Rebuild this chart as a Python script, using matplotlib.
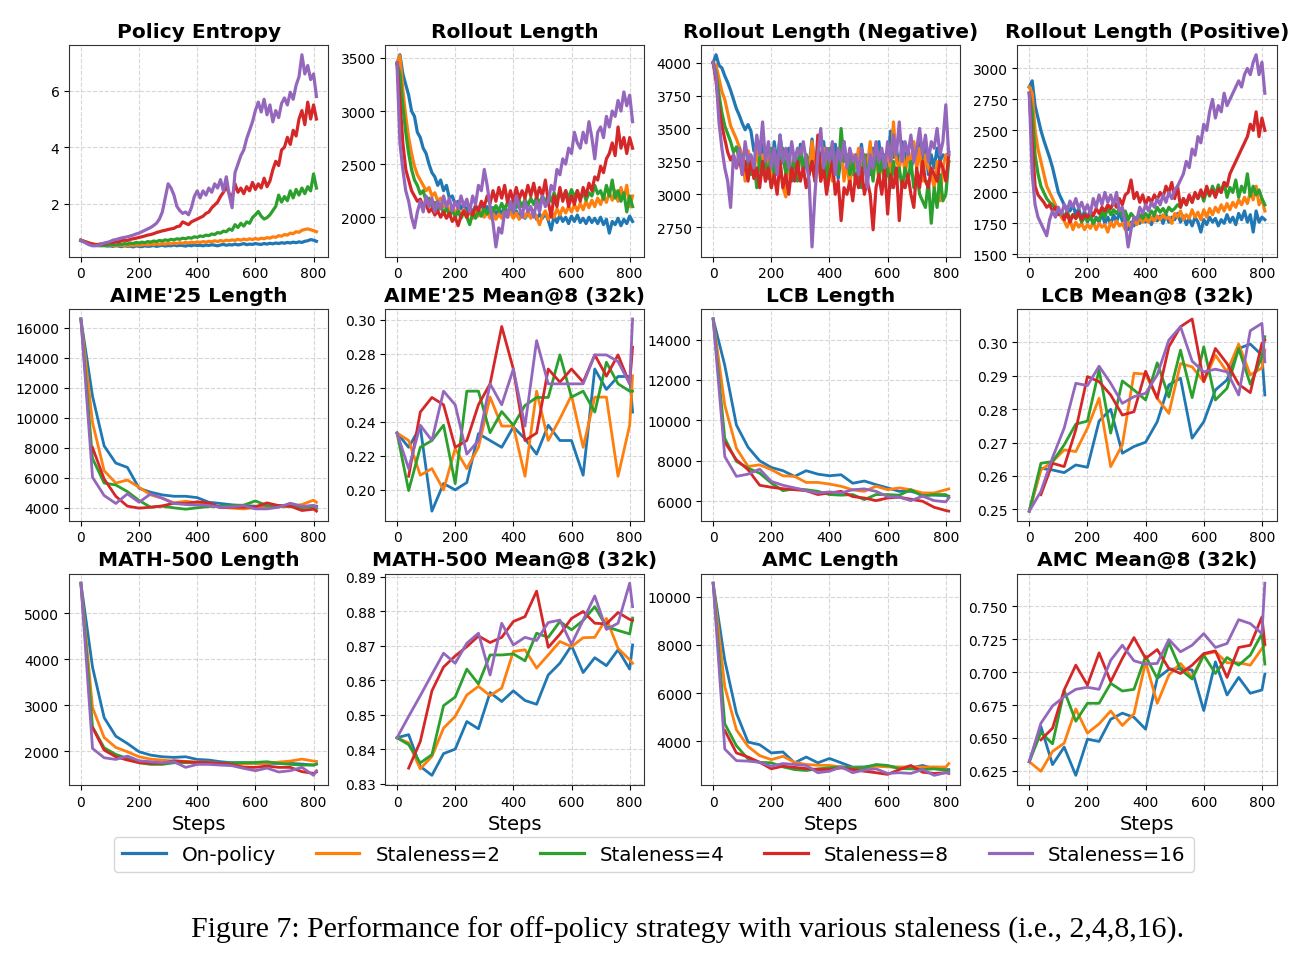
import numpy as np
import matplotlib
matplotlib.use("Agg")
import matplotlib.pyplot as plt
from matplotlib.ticker import MultipleLocator

nan = np.nan
series_names = ["On-policy", "Staleness=2", "Staleness=4", "Staleness=8", "Staleness=16"]
colors = ["#1f77b4", "#ff7f0e", "#2ca02c", "#d62728", "#9467bd"]

train_steps = list(range(0, 811, 10))
eval_steps = list(range(0, 801, 40)) + [810]

# ---------------- training curves (sampled every 10 steps) ----------------
entropy_on = [0.68,0.64,0.62,0.58,0.55,0.53,0.52,0.50,0.52,0.49,0.50,0.48,0.51,0.49,0.47,0.50,0.48,0.49,0.46,0.50,0.48,0.47,0.50,0.48,0.49,0.51,0.48,0.50,0.52,0.49,0.51,0.50,0.53,0.50,0.52,0.51,0.49,0.52,0.50,0.53,0.51,0.52,0.50,0.53,0.51,0.54,0.52,0.50,0.53,0.55,0.52,0.54,0.53,0.56,0.53,0.55,0.58,0.54,0.56,0.55,0.58,0.56,0.55,0.58,0.56,0.59,0.57,0.60,0.58,0.61,0.59,0.62,0.60,0.63,0.61,0.64,0.62,0.66,0.68,0.72,0.70,0.66]
entropy_s2 = [0.70,0.66,0.63,0.60,0.57,0.55,0.53,0.54,0.52,0.53,0.51,0.52,0.50,0.53,0.51,0.52,0.50,0.53,0.51,0.54,0.52,0.53,0.55,0.53,0.56,0.54,0.57,0.55,0.58,0.56,0.59,0.57,0.60,0.58,0.61,0.59,0.62,0.60,0.63,0.61,0.64,0.62,0.65,0.63,0.66,0.64,0.68,0.65,0.69,0.66,0.70,0.68,0.71,0.69,0.73,0.70,0.74,0.71,0.75,0.72,0.76,0.73,0.77,0.75,0.79,0.77,0.82,0.80,0.86,0.84,0.90,0.88,0.95,0.93,1.00,0.98,1.05,1.08,1.10,1.07,1.04,1.00]
entropy_s4 = [0.70,0.66,0.62,0.58,0.55,0.52,0.50,0.52,0.50,0.53,0.52,0.55,0.53,0.56,0.55,0.58,0.56,0.60,0.58,0.62,0.60,0.63,0.61,0.65,0.63,0.67,0.65,0.69,0.67,0.71,0.69,0.73,0.71,0.75,0.73,0.77,0.75,0.79,0.77,0.82,0.80,0.85,0.83,0.88,0.86,0.92,0.90,0.97,0.95,1.02,1.00,1.10,1.05,1.25,1.15,1.30,1.20,1.35,1.30,1.50,1.60,1.72,1.55,1.45,1.50,1.60,1.75,1.90,2.30,2.05,2.25,2.10,2.45,2.20,2.50,2.30,2.55,2.35,2.60,2.45,3.05,2.55]
entropy_s8 = [0.70,0.66,0.62,0.58,0.56,0.54,0.55,0.57,0.56,0.60,0.62,0.61,0.65,0.64,0.68,0.70,0.69,0.73,0.75,0.77,0.80,0.82,0.85,0.88,0.90,0.93,0.97,1.00,1.03,1.05,1.08,1.10,1.12,1.18,1.20,1.35,1.30,1.25,1.35,1.40,1.45,1.50,1.55,1.65,1.70,1.85,1.95,2.05,2.25,2.40,2.60,2.35,2.20,2.70,2.40,2.55,2.35,2.60,2.45,2.75,2.50,2.70,2.55,2.90,2.60,2.80,3.20,3.50,3.35,3.90,4.00,4.35,4.10,4.60,4.40,5.00,5.30,4.80,5.60,5.00,5.50,5.00]
entropy_s16 = [0.70,0.64,0.58,0.53,0.50,0.50,0.52,0.55,0.60,0.62,0.65,0.70,0.72,0.75,0.78,0.80,0.82,0.85,0.88,0.92,0.95,1.00,1.05,1.10,1.15,1.22,1.30,1.45,1.70,2.20,2.70,2.55,2.30,1.90,1.75,1.65,1.70,1.60,1.85,2.25,2.45,2.20,2.45,2.30,2.55,2.40,2.70,2.55,2.85,2.45,2.95,2.30,1.85,3.10,3.40,3.70,3.90,4.30,4.60,4.90,5.30,5.60,5.25,5.70,5.15,5.50,4.90,5.30,5.05,5.55,5.75,5.50,5.95,5.70,6.20,6.50,7.28,6.60,6.90,6.40,6.60,5.80]

rollout_on = [3450,3530,3350,3250,3150,3000,2950,2800,2750,2650,2600,2500,2420,2380,2300,2350,2250,2300,2180,2200,2120,2150,2080,2130,2060,2100,2040,2110,2070,2130,2050,2100,2040,2090,2020,2080,2030,2100,2040,2080,2020,2060,2000,2050,1990,2040,2000,2060,1980,2030,1990,2040,1970,1880,2010,1950,2020,1960,2000,1940,2010,1960,2020,1950,1990,1940,2000,1950,1990,1940,2000,1930,1980,1850,1960,1930,1990,1920,1980,1940,2010,1960]
rollout_s2 = [3450,3520,3200,2950,2750,2600,2480,2400,2350,2300,2250,2280,2200,2230,2150,2180,2100,2130,2060,2100,2040,2080,2020,2070,2000,2060,1990,2050,2010,2060,2000,2050,1990,2040,1980,2030,1990,2060,2000,2050,1990,2040,1980,2030,2000,2060,1990,2050,2000,1930,2010,2060,1980,2050,2000,2080,2020,2090,2040,2100,2050,2120,2060,2130,2070,2150,2090,2160,2100,2180,2120,2200,2140,2230,2160,2250,2150,2280,2180,2300,2100,2200]
rollout_s4 = [3450,3350,3050,2800,2600,2450,2350,2300,2220,2250,2150,2180,2100,2140,2060,2120,2030,2090,2010,2070,2000,2060,1990,2050,2000,1930,2040,1990,2060,2010,2080,2030,2100,2050,2110,2060,2130,2070,2140,2080,2150,2090,2160,2100,2170,2110,2180,2120,2190,2130,2200,2140,2210,2150,2230,2160,2240,2170,2250,2180,2260,2190,2250,2170,2240,2160,2230,2200,2300,2220,2250,2170,2300,2200,2350,2180,2250,2150,2230,2050,2200,2100]
rollout_s8 = [3450,3100,2700,2450,2350,2250,2200,2150,2170,2100,2120,2050,2080,2020,2060,2000,2050,1990,2040,1960,2000,1920,2010,2060,2000,2080,2020,2100,2060,2150,2100,2200,2130,2250,2150,2280,2180,2300,2140,2250,2150,2280,2170,2250,2180,2300,2200,2320,2180,2280,2200,2350,2150,2000,2200,2100,2280,2150,2250,2100,2200,2120,2250,2150,2280,2200,2320,2250,2380,2350,2480,2420,2550,2600,2700,2580,2850,2650,2750,2600,2750,2650]
rollout_s16 = [3450,2700,2450,2250,2150,2000,1900,2050,2150,2050,2200,2100,2180,2050,2150,2080,2200,2100,2180,2060,2150,2080,2200,2100,2170,2050,2200,2120,2300,2250,2450,2300,2100,1950,1720,1900,1850,2050,2000,2150,2050,2200,2100,2000,2150,2050,2100,2000,2150,2050,2200,2100,2150,2300,2250,2450,2400,2550,2500,2650,2600,2800,2700,2650,2800,2700,2900,2750,2550,2800,2850,2750,2950,2850,3000,2950,3100,3000,3180,3050,3150,2900]

neg_on = [4000,4060,3980,3960,3900,3850,3790,3720,3650,3600,3540,3490,3530,3480,3330,3400,3250,3380,3170,3320,3120,3400,3220,3450,3260,3180,3350,3100,3300,3200,3380,3150,3300,3220,3420,3180,3350,3250,3400,3150,3300,3200,3380,3120,3280,3400,3200,3330,3150,3300,3250,3380,3200,3300,3150,3350,3250,3400,3180,3300,3220,3480,3280,3350,3200,3400,3250,3350,3180,3300,3220,3400,3250,3380,3150,3300,3200,3350,3250,3300,3280,3320]
neg_s2 = [4000,3980,3880,3780,3720,3620,3520,3470,3420,3360,3300,3100,3330,3260,3150,3350,3200,3300,3100,3350,3050,3300,3150,3250,3050,2980,3300,3150,3280,3120,3350,3200,3300,3150,3400,3200,3300,3100,3350,3150,3250,3100,3300,3200,3350,3100,3250,3050,3300,3200,3350,3150,3300,3200,3400,3150,3300,3100,3250,3200,3350,3150,3550,3250,3200,3350,3150,3300,3250,3400,3200,3350,3100,3300,3200,3150,3050,3250,2950,3200,3300,3250]
neg_s4 = [4000,3920,3760,3620,3520,3460,3400,3320,3360,3260,3300,3200,3280,3150,3250,3050,3280,3150,3250,3120,3350,3150,3300,3200,3350,3150,3280,3120,3300,3100,3350,3200,3300,3150,3250,3100,3300,3150,3250,3100,3350,3200,3300,3150,3500,3250,3300,3150,3250,3100,3200,3050,3300,3150,3250,3100,3350,3150,3250,3100,3200,3050,3250,3100,3200,3050,3200,3100,3250,3050,3150,3000,2950,2900,3100,2780,3050,2900,3150,2950,3000,3250]
neg_s8 = [4000,3860,3660,3520,3420,3320,3260,3300,3200,3280,3150,3250,3100,3280,3120,3200,3050,3250,3100,3200,3050,3150,3000,3250,3050,3150,3000,3200,3100,3250,3100,3200,3050,3150,3250,3100,3450,3100,3200,3000,3150,3250,3000,3100,2800,3050,3000,3100,2950,3150,3050,3200,3000,3100,3000,2730,3050,3150,3000,3200,2850,3150,3050,3200,2800,3100,3050,3150,3000,2900,3200,3050,3250,3100,3050,3200,3150,3100,3250,3200,3100,3300]
neg_s16 = [4000,3900,3550,3350,3200,3100,2900,3300,3200,3350,3150,3400,3250,3300,3200,3450,3300,3550,3250,3400,3200,3350,3150,3450,3250,3350,3200,3400,3250,3350,3300,3400,3250,3100,2600,3000,3300,3500,3200,3350,3250,3400,3150,3350,3250,3400,3200,3350,3250,3300,3150,3350,3250,3050,3300,3200,3400,3250,3350,3200,3400,3250,3450,3300,3550,3250,3400,3300,3450,3250,3350,3500,3300,3450,3250,3400,3350,3500,3300,3400,3680,3300]

pos_on = [2850,2900,2700,2600,2500,2420,2350,2280,2200,2100,2000,1950,1900,1870,1850,1900,1820,1870,1780,1850,1760,1820,1740,1800,1760,1830,1750,1800,1740,1820,1760,1840,1770,1810,1700,1760,1730,1800,1750,1820,1760,1800,1740,1830,1770,1810,1750,1820,1760,1800,1780,1830,1760,1810,1740,1790,1730,1800,1760,1680,1780,1740,1800,1760,1790,1730,1780,1750,1820,1760,1800,1740,1830,1780,1850,1760,1820,1680,1850,1760,1800,1780]
pos_s2 = [2850,2800,2500,2350,2250,2150,2050,2000,1950,1900,1850,1800,1770,1720,1780,1700,1760,1720,1750,1700,1740,1710,1760,1700,1750,1720,1740,1680,1760,1720,1770,1730,1750,1700,1760,1720,1780,1740,1800,1760,1790,1760,1800,1770,1810,1780,1820,1790,1800,1750,1830,1800,1850,1780,1820,1790,1860,1800,1840,1780,1860,1800,1870,1820,1880,1840,1900,1850,1910,1860,1920,1880,1940,1900,1960,1910,2000,1940,2050,1900,1950,1850]
pos_s4 = [2800,2650,2300,2150,2050,2000,1950,1920,1900,1870,1850,1830,1800,1850,1780,1820,1790,1830,1760,1800,1770,1810,1750,1790,1780,1850,1800,1880,1820,1860,1830,1870,1810,1850,1780,1830,1800,1780,1820,1790,1830,1800,1850,1820,1880,1840,1870,1830,1880,1850,1870,1900,1880,1950,1900,1970,1920,1990,1950,2000,1930,2020,1970,2050,1980,2060,2000,2080,1960,2040,2000,2100,1960,2050,2000,2150,1970,2050,1980,2020,1950,1900]
pos_s8 = [2800,2400,2050,1980,1950,1920,1880,1900,1850,1880,1820,1850,1780,1830,1760,1820,1790,1840,1780,1820,1800,1850,1810,1870,1830,1880,1850,1900,1870,1920,1880,1950,1900,1980,2000,2100,1950,2000,1920,1980,1900,1960,1920,1980,1940,2000,1960,2050,2000,2080,1950,2050,1880,1950,1900,1980,1920,2000,1950,2020,1960,2050,1980,2020,1960,2030,2000,2080,2050,2150,2200,2250,2300,2350,2400,2450,2550,2500,2650,2450,2600,2500]
pos_s16 = [2800,2150,1900,1800,1750,1700,1650,1780,1850,1800,1880,1820,1900,1850,1930,1880,1950,1870,1920,1850,1900,1830,1950,1880,1980,1900,2000,1920,1980,1900,2000,1850,1880,1750,1560,1700,1800,1780,1880,1830,1900,1850,1920,1880,1950,1900,1980,1920,2000,1950,2020,2050,2100,2150,2250,2200,2350,2300,2450,2400,2550,2500,2650,2750,2600,2700,2650,2800,2700,2750,2800,2850,2900,2850,2950,3000,2950,3050,3110,2950,3050,2800]

# ---------------- evaluation curves (every 40 steps + final 810) ----------------
aime_len_on = [16570,11430,8120,6980,6690,5300,5040,4860,4770,4770,4680,4370,4290,4200,4150,4110,4070,4110,4110,4040,4150,4110]
aime_len_s2 = [16570,9670,6470,5650,5850,5370,4860,4640,4330,4440,4330,4240,4040,3980,3930,4020,4000,4070,4110,4220,4510,4370]
aime_len_s4 = [16570,7290,5650,5520,5080,4490,4040,4110,4000,3910,4000,4090,4110,4150,4180,4460,4150,4150,4110,4020,4070,3930]
aime_len_s8 = [nan,8010,5920,4770,4110,3980,4040,4130,4310,4290,4400,4330,4020,4040,4040,4070,4330,4150,4110,3820,3910,3780]
aime_len_s16 = [16570,6030,4820,4290,4930,4370,4930,4640,4290,4220,4180,4150,4040,4070,4150,3930,3930,4040,4310,4110,4150,4040]

aime_acc_on = [0.2334,0.225,0.237,0.1875,0.2037,0.200,0.2043,0.233,0.229,0.225,0.237,0.230,0.221,0.238,0.229,0.229,0.2086,0.271,0.259,0.2666,0.2666,0.2457]
aime_acc_s2 = [0.2334,0.229,0.2086,0.2125,0.200,0.2242,0.2125,0.225,0.2545,0.2375,0.2375,0.208,0.258,0.229,0.2418,0.2555,0.225,0.2545,0.2545,0.208,0.238,0.267]
aime_acc_s4 = [0.2334,0.1996,0.225,0.229,0.238,0.2037,0.258,0.258,0.2336,0.246,0.238,0.2496,0.2543,0.2543,0.2793,0.2545,0.258,0.2457,0.275,0.2623,0.258,0.258]
aime_acc_s8 = [nan,0.208,0.2457,0.2543,0.250,0.225,0.229,0.250,0.2623,0.296,0.271,0.229,0.2334,0.271,0.2633,0.271,0.2633,0.2793,0.2668,0.2793,0.2623,0.2838]
aime_acc_s16 = [0.2334,0.2125,0.238,0.229,0.258,0.250,0.221,0.229,0.2623,0.250,0.271,0.2375,0.2877,0.2623,0.2623,0.2623,0.2623,0.2793,0.2793,0.2754,0.2623,0.3004]

lcb_len_on = [15015,12720,9770,8670,8000,7670,7510,7230,7510,7340,7260,7310,6890,7000,6820,6660,6490,6490,6330,6300,6280,6250]
lcb_len_s2 = [15015,10750,8620,7720,7800,7560,7260,7230,6930,6930,6850,6740,6560,6490,6740,6570,6660,6570,6410,6410,6570,6610]
lcb_len_s4 = [15015,9110,7970,7640,7390,6900,6520,6620,6570,6490,6330,6300,6330,6080,6330,6330,6300,6570,6250,6330,6330,6200]
lcb_len_s8 = [nan,8920,8050,7560,6790,6690,6620,6570,6520,6330,6410,6490,6230,6160,6030,6160,6200,6100,6000,5700,5540,5510]
lcb_len_s16 = [15015,8210,7230,7340,7590,6980,6790,6660,6520,6410,6460,6410,6570,6610,6490,6230,6200,6030,6250,6030,5970,6160]

lcb_acc_on = [0.2495,0.2623,0.2618,0.261,0.2633,0.2626,0.2764,0.2799,0.2668,0.2688,0.2701,0.2762,0.2872,0.2892,0.2713,0.2762,0.2857,0.2887,0.2981,0.2994,0.2961,0.2842]
lcb_acc_s2 = [0.2495,0.2618,0.2643,0.2678,0.2673,0.2743,0.2832,0.2628,0.2693,0.2907,0.2904,0.2832,0.2787,0.2936,0.2926,0.2882,0.2961,0.2911,0.2994,0.2902,0.2923,0.2976]
lcb_acc_s4 = [0.2495,0.2638,0.2643,0.2693,0.2755,0.2764,0.2917,0.2728,0.2884,0.2857,0.2827,0.2938,0.2836,0.2976,0.2834,0.2986,0.2827,0.2862,0.2981,0.2874,0.2956,0.3016]
lcb_acc_s8 = [nan,0.2544,0.2638,0.2628,0.2738,0.2897,0.2882,0.2842,0.2782,0.2792,0.2913,0.2832,0.2986,0.3046,0.3069,0.2882,0.2981,0.2936,0.2874,0.2849,0.2996,0.3006]
lcb_acc_s16 = [0.2495,0.2554,0.2655,0.2743,0.2877,0.2870,0.2928,0.2877,0.2817,0.2837,0.2847,0.2902,0.3006,0.3046,0.2943,0.2911,0.2919,0.2911,0.2842,0.3034,0.3056,0.2941]

math_len_on = [5660,3830,2730,2325,2166,1986,1913,1877,1863,1877,1819,1805,1769,1747,1747,1733,1733,1733,1733,1718,1696,1718]
math_len_s2 = [5660,2947,2296,2080,1986,1877,1826,1805,1783,1776,1761,1761,1733,1711,1718,1733,1733,1761,1783,1826,1783,1776]
math_len_s4 = [5660,2528,2072,1928,1841,1747,1711,1711,1747,1747,1754,1747,1733,1747,1747,1754,1769,1733,1711,1696,1696,1718]
math_len_s8 = [nan,2513,2022,1877,1805,1747,1733,1733,1790,1769,1754,1747,1733,1711,1646,1646,1675,1646,1646,1552,1516,1545]
math_len_s16 = [5660,2058,1855,1819,1892,1790,1769,1747,1769,1646,1711,1711,1696,1682,1624,1573,1631,1545,1573,1646,1472,1573]

math_acc_on = [0.8433,0.8442,0.835,0.8324,0.8387,0.840,0.848,0.8459,0.8564,0.8538,0.8569,0.8541,0.853,0.8615,0.8649,0.870,0.8622,0.8665,0.8642,0.8688,0.8632,0.8702]
math_acc_s2 = [0.8433,0.8418,0.8343,0.8379,0.8461,0.8495,0.8557,0.8582,0.8555,0.8577,0.8683,0.8688,0.8635,0.8673,0.8712,0.8697,0.8723,0.8724,0.8779,0.8692,0.8659,0.8649]
math_acc_s4 = [0.8433,0.8413,0.836,0.8384,0.8526,0.8551,0.8632,0.8589,0.8673,0.8673,0.8676,0.8656,0.8736,0.8724,0.877,0.8746,0.8773,0.8813,0.8755,0.8744,0.8734,0.8780]
math_acc_s8 = [nan,0.8345,0.8422,0.8569,0.8638,0.867,0.8697,0.8728,0.8709,0.8724,0.877,0.8784,0.8858,0.8695,0.8733,0.8779,0.8799,0.8765,0.8763,0.8796,0.8776,0.8773]
math_acc_s16 = [0.8433,0.8495,0.8555,0.8617,0.8678,0.8649,0.8707,0.8736,0.8615,0.8765,0.8702,0.8724,0.8715,0.8767,0.8774,0.8704,0.8774,0.8844,0.8747,0.8765,0.8881,0.8813]

amc_len_on = [10560,7360,5170,3970,3860,3520,3560,3110,3350,3110,3290,3110,2930,2940,3010,2970,2900,2900,3000,2870,2830,2830]
amc_len_s2 = [10560,6270,4480,3790,3410,3240,3380,3130,3040,3010,3000,2940,2900,2900,2970,2940,2940,2940,2930,2940,2930,3080]
amc_len_s4 = [10560,4730,3820,3270,3130,3110,2940,2830,2790,2860,2900,2940,2900,2900,3040,3000,2870,2860,2830,2860,2810,2760]
amc_len_s8 = [nan,4450,3520,3350,3130,2860,2970,2920,2870,2830,2830,2900,2830,2760,2700,2630,2830,3000,2720,2670,2700,2670]
amc_len_s16 = [10560,3680,3200,3180,3130,2970,3080,3040,3000,2700,2760,2940,2700,2810,2860,2670,2700,2670,2830,2590,2700,2700]

amc_acc_on = [0.632,0.6587,0.6298,0.6431,0.6217,0.6491,0.6474,0.6642,0.6688,0.6657,0.6567,0.6952,0.702,0.7027,0.7015,0.6708,0.7077,0.6826,0.6959,0.6839,0.6864,0.6984]
amc_acc_s2 = [0.632,0.6248,0.6398,0.6461,0.672,0.6537,0.6607,0.6705,0.6595,0.6683,0.7077,0.6763,0.6977,0.7065,0.6959,0.7133,0.7153,0.707,0.707,0.7052,0.7178,0.7203]
amc_acc_s4 = [0.632,0.6542,0.6456,0.6859,0.6627,0.6763,0.6763,0.6914,0.6856,0.6869,0.712,0.6952,0.7223,0.702,0.6947,0.7128,0.6989,0.711,0.7052,0.7128,0.7291,0.706]
amc_acc_s8 = [nan,0.6486,0.6574,0.6864,0.7052,0.6901,0.7145,0.6927,0.7103,0.7261,0.7103,0.717,0.7027,0.6989,0.7052,0.714,0.716,0.6959,0.7186,0.7203,0.7417,0.7211]
amc_acc_s16 = [0.632,0.6612,0.6743,0.6813,0.6869,0.6884,0.6869,0.7089,0.7203,0.7085,0.706,0.7065,0.7246,0.7153,0.7203,0.7291,0.7186,0.7216,0.7397,0.7367,0.7291,0.7673]

panels = [
    ("Policy Entropy", train_steps, [entropy_on, entropy_s2, entropy_s4, entropy_s8, entropy_s16], None),
    ("Rollout Length", train_steps, [rollout_on, rollout_s2, rollout_s4, rollout_s8, rollout_s16], 500),
    ("Rollout Length (Negative)", train_steps, [neg_on, neg_s2, neg_s4, neg_s8, neg_s16], 250),
    ("Rollout Length (Positive)", train_steps, [pos_on, pos_s2, pos_s4, pos_s8, pos_s16], 250),
    ("AIME'25 Length", eval_steps, [aime_len_on, aime_len_s2, aime_len_s4, aime_len_s8, aime_len_s16], 2000),
    ("AIME'25 Mean@8 (32k)", eval_steps, [aime_acc_on, aime_acc_s2, aime_acc_s4, aime_acc_s8, aime_acc_s16], 0.02),
    ("LCB Length", eval_steps, [lcb_len_on, lcb_len_s2, lcb_len_s4, lcb_len_s8, lcb_len_s16], 2000),
    ("LCB Mean@8 (32k)", eval_steps, [lcb_acc_on, lcb_acc_s2, lcb_acc_s4, lcb_acc_s8, lcb_acc_s16], 0.01),
    ("MATH-500 Length", eval_steps, [math_len_on, math_len_s2, math_len_s4, math_len_s8, math_len_s16], 1000),
    ("MATH-500 Mean@8 (32k)", eval_steps, [math_acc_on, math_acc_s2, math_acc_s4, math_acc_s8, math_acc_s16], 0.01),
    ("AMC Length", eval_steps, [amc_len_on, amc_len_s2, amc_len_s4, amc_len_s8, amc_len_s16], 2000),
    ("AMC Mean@8 (32k)", eval_steps, [amc_acc_on, amc_acc_s2, amc_acc_s4, amc_acc_s8, amc_acc_s16], 0.025),
]

fig, axes = plt.subplots(3, 4, figsize=(13.04, 9.62), dpi=100)
fig.subplots_adjust(left=0.053, right=0.979, top=0.952, bottom=0.183, wspace=0.22, hspace=0.25)

for i, (ax, (title, xs, ys_list, ystep)) in enumerate(zip(axes.flat, panels)):
    lw = 2.3 if i < 4 else 2.0
    for ys, c, name in zip(ys_list, colors, series_names):
        ax.plot(xs, ys, color=c, lw=lw, label=name)
    ax.set_title(title, fontsize=14.5, fontweight="bold")
    ax.grid(True, linestyle="--", color="#b0b0b0", alpha=0.5, lw=0.8)
    ax.xaxis.set_major_locator(MultipleLocator(200))
    if ystep is not None:
        ax.yaxis.set_major_locator(MultipleLocator(ystep))
    ax.tick_params(labelsize=10)
    for s in ax.spines.values():
        s.set_color("#333333")

for ax in axes[2]:
    ax.set_xlabel("Steps", fontsize=14)

handles, labels = axes[0, 0].get_legend_handles_labels()
fig.legend(handles, labels, loc="center", bbox_to_anchor=(0.5015, 0.111), ncol=5,
           fontsize=14.3, frameon=True, columnspacing=2.0, handlelength=2.2)

fig.text(0.527, 0.033,
         "Figure 7: Performance for off-policy strategy with various staleness (i.e., 2,4,8,16).",
         ha="center", va="center", fontsize=21.5, family="Liberation Serif")

fig.savefig("out.png", dpi=100)
